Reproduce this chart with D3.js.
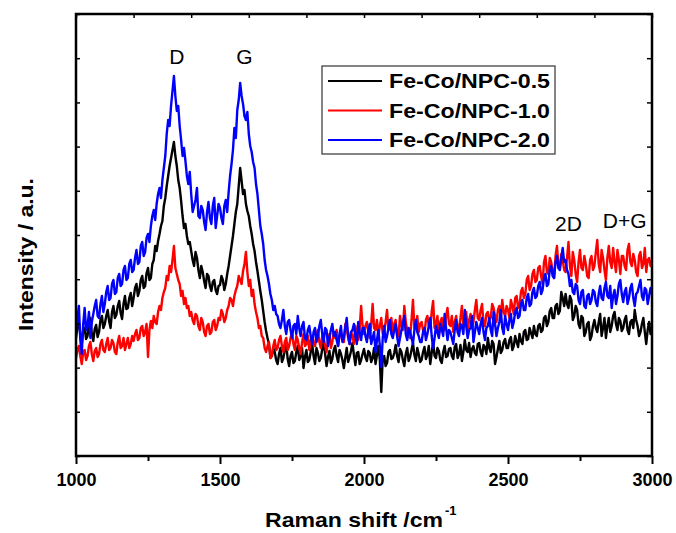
<!DOCTYPE html>
<html><head><meta charset="utf-8">
<script src="https://cdn.jsdelivr.net/npm/d3@7"></script>
<style>body{margin:0;background:#fff}svg{display:block}text{font-family:"Liberation Sans",Arial,sans-serif}</style>
</head><body><svg id="c" width="676" height="533"></svg>
<script>
// Raman shift axis: 1000..3000 step 5
const shiftStart = 1000, shiftStep = 5;
const seriesNames = ["Fe-Co/NPC-0.5", "Fe-Co/NPC-1.0", "Fe-Co/NPC-2.0"];
const seriesColors = ["#000000", "#ff0000", "#0000ff"];
const xTicks = [1000, 1500, 2000, 2500, 3000];
const peakLabels = ["D", "G", "2D", "D+G"];
const peakLabelX = [1350, 1585, 2710, 2905];
const peakLabelY = [392, 392, 225, 228];

const npc05 = [
118,130,134,121,112,126,128,117,120,133,138,122,115,127,131,119,124,136,140,128,
132,140,146,135,128,144,150,138,141,150,155,143,137,152,160,147,148,158,163,150,
158,168,172,160,165,176,180,168,170,183,188,176,178,192,196,210,205,215,222,230,
235,250,258,270,280,290,298,306,314,300,290,276,268,255,240,228,232,220,212,214,
205,196,190,204,198,186,178,190,184,175,168,182,180,170,165,174,176,166,162,170,
171,180,176,166,172,182,190,200,210,220,232,244,252,270,288,275,262,266,252,245,
240,230,222,212,205,194,185,175,165,156,145,134,125,118,112,98,100,108,104,96,
92,102,108,94,98,106,112,97,90,100,104,93,95,104,110,96,100,108,88,99,
106,94,96,104,112,100,92,108,103,95,98,107,115,102,90,99,105,93,97,106,
110,100,94,106,102,96,88,98,108,94,99,105,113,101,91,103,104,92,96,102,
107,99,95,105,103,94,98,108,92,101,110,96,64,98,100,90,93,104,106,97,
98,103,111,100,94,107,104,96,90,102,108,95,99,106,113,101,95,108,102,94,
96,104,109,97,101,110,92,103,114,100,98,108,105,96,93,104,110,99,100,107,
108,100,97,109,112,98,102,111,95,104,116,106,104,113,99,107,110,103,101,112,
113,104,100,111,109,102,118,108,104,115,112,92,99,107,115,103,106,114,117,108,
108,116,119,106,110,120,114,109,122,115,112,124,126,116,117,128,123,118,130,122,
120,130,132,124,126,138,140,130,134,145,148,138,138,150,152,142,145,164,158,150,
162,152,148,160,156,136,140,150,146,132,128,140,138,120,124,132,134,116,120,130,
136,128,124,134,142,120,128,138,118,130,138,124,130,140,144,132,126,138,135,125,
128,136,140,126,122,134,136,128,146,136,130,120,124,132,138,124,112,126,134,122,
128];
const npc10 = [
98,106,110,100,92,104,106,96,100,110,114,102,95,105,108,99,102,112,116,106,
104,112,118,106,108,116,113,104,102,114,120,108,110,118,106,112,118,108,112,120,
115,122,126,116,118,128,130,120,124,132,99,126,135,128,140,134,132,144,150,146,
158,164,168,180,176,190,184,196,210,188,182,176,172,160,165,152,158,148,150,140,
144,136,132,142,140,130,126,138,134,124,120,130,132,122,124,134,136,126,130,138,
136,146,142,134,138,146,150,158,156,150,160,166,170,180,176,172,185,192,204,184,
170,176,160,166,152,144,138,128,130,120,118,108,104,110,114,98,100,110,116,106,
108,116,120,110,104,114,118,106,110,118,124,112,106,120,116,108,102,114,122,110,
112,120,106,116,120,112,110,122,126,114,108,120,118,110,104,116,122,108,114,124,
118,126,110,120,124,116,114,132,128,118,112,124,120,112,130,122,116,128,150,130,
122,130,134,124,118,132,152,128,126,136,120,130,138,122,124,134,146,126,128,138,
124,132,136,122,120,140,130,126,150,134,126,120,118,136,156,128,130,140,124,132,
134,126,122,136,140,130,128,144,155,128,132,140,120,134,138,126,126,140,148,132,
130,140,124,134,140,126,128,138,150,130,132,144,126,136,142,128,134,146,156,138,
136,146,152,132,130,142,144,136,138,152,148,140,134,146,150,138,156,144,140,150,
146,138,156,150,142,158,160,148,150,164,168,158,162,176,180,166,170,182,186,174,
176,188,190,180,172,194,200,184,182,198,194,184,178,200,210,190,188,202,196,186,
184,198,214,190,180,204,196,182,174,194,206,188,186,200,192,180,178,196,200,186,
190,204,216,192,184,206,198,186,176,198,210,194,188,208,194,184,206,196,182,200,
200,190,186,206,212,194,190,202,196,184,180,200,204,188,192,208,184,196,198,190,
196];
const npc20 = [
125,138,150,116,102,132,148,126,130,144,118,134,142,150,156,140,138,152,160,144,
152,164,170,156,158,172,176,162,164,178,182,170,172,186,190,176,178,192,196,184,
186,198,206,192,194,210,214,200,204,218,222,214,230,240,246,236,252,262,268,258,
276,288,300,322,336,330,350,365,380,360,345,350,330,316,300,308,295,280,272,284,
262,244,250,256,268,240,238,250,246,234,226,244,254,238,232,250,258,228,240,252,
248,238,232,250,256,244,264,280,292,306,328,318,346,356,373,360,352,340,336,344,
322,310,304,294,288,272,262,246,230,222,212,196,186,180,172,162,156,146,150,142,
140,132,128,136,146,130,122,134,136,126,118,130,132,122,140,128,120,130,134,118,
116,126,130,120,112,124,128,114,120,130,136,122,114,128,126,110,118,126,132,120,
124,116,110,122,130,114,118,128,138,120,112,124,126,132,120,112,134,124,116,128,
128,120,114,126,132,112,118,124,104,116,126,110,89,118,130,114,120,128,136,122,
118,126,132,120,110,118,126,132,140,122,116,128,124,118,112,126,136,124,120,114,
114,124,128,116,122,130,138,120,108,118,130,124,118,132,126,120,142,128,116,126,
124,118,112,126,136,124,120,132,130,122,146,130,118,126,128,140,114,124,134,128,
122,132,138,124,116,128,130,138,126,120,144,132,120,128,134,146,128,122,140,132,
126,136,142,128,134,144,148,138,140,152,156,146,146,158,162,150,152,164,168,158,
160,170,174,162,166,178,182,170,172,186,190,180,178,194,200,188,186,198,208,194,
196,186,182,170,176,164,162,172,170,156,152,164,166,150,148,160,162,152,156,166,
164,154,150,162,170,158,156,168,174,160,158,170,148,160,166,152,160,172,176,162,
154,164,168,152,158,168,172,158,150,162,164,170,176,160,156,168,166,152,160,168,
162];
const seriesValues = [npc05, npc10, npc20];

const svg = d3.select("#c");
const L = 76, R = 652, T = 14, B = 456;
const x = d3.scaleLinear().domain([1000, 3000]).range([L, R]);
const y = d3.scaleLinear().domain([0, 442]).range([B, T]);

svg.append("defs").append("clipPath").attr("id", "clip")
  .append("rect").attr("x", L).attr("y", T).attr("width", R - L).attr("height", B - T);

const line = d3.line().x((d, i) => x(shiftStart + i * shiftStep)).y(d => y(d));
const g = svg.append("g").attr("clip-path", "url(#clip)");
seriesValues.forEach((vals, k) => {
  g.append("path").datum(vals).attr("d", line).attr("fill", "none")
    .attr("stroke", seriesColors[k]).attr("stroke-width", 2.4).attr("stroke-linejoin", "round");
});

// axes
const axB = svg.append("g").attr("transform", `translate(0,${B})`)
  .call(d3.axisBottom(x).tickValues(d3.range(1000, 3001, 250)).tickSize(8).tickFormat(d => xTicks.includes(d) ? d : ""));
axB.selectAll(".tick line").attr("stroke-width", 2).attr("y2", d => xTicks.includes(d) ? 8 : 5);
axB.selectAll(".tick text").attr("font-size", 18).attr("font-weight", "bold").attr("dy", "1.05em").attr("fill", "#000");
axB.select(".domain").remove();

const axT = svg.append("g").attr("transform", `translate(0,${T})`)
  .call(d3.axisBottom(x).tickValues(d3.range(1000, 3001, 200)).tickSize(4).tickFormat(""));
axT.selectAll(".tick line").attr("stroke-width", 1.5);
axT.select(".domain").remove();

const yt = d3.range(0, 443, 44.2);
const axL = svg.append("g").attr("transform", `translate(${L},0)`)
  .call(d3.axisRight(y).tickValues(yt).tickSize(4).tickFormat(""));
axL.selectAll(".tick line").attr("stroke-width", 1.5);
axL.select(".domain").remove();
const axR = svg.append("g").attr("transform", `translate(${R},0)`)
  .call(d3.axisLeft(y).tickValues(yt).tickSize(5).tickFormat(""));
axR.selectAll(".tick line").attr("stroke-width", 1.5);
axR.select(".domain").remove();

svg.append("rect").attr("x", L).attr("y", T).attr("width", R - L).attr("height", B - T)
  .attr("fill", "none").attr("stroke", "#000").attr("stroke-width", 2.5);

// axis titles
svg.append("text").attr("x", 265).attr("y", 527).attr("font-size", 21).attr("font-weight", "bold")
  .attr("textLength", 178).attr("lengthAdjust", "spacingAndGlyphs").text("Raman shift /cm");
svg.append("text").attr("x", 445).attr("y", 515).attr("font-size", 13).attr("font-weight", "bold").text("-1");
svg.append("text").attr("transform", "translate(33,331) rotate(-90)").attr("font-size", 21).attr("font-weight", "bold")
  .attr("textLength", 153).attr("lengthAdjust", "spacingAndGlyphs").text("Intensity / a.u.");

// peak labels
peakLabels.forEach((t, i) => {
  svg.append("text").attr("x", x(peakLabelX[i])).attr("y", y(peakLabelY[i])).attr("text-anchor", "middle")
    .attr("font-size", 21).text(t);
});

// legend
const lg = svg.append("g");
lg.append("rect").attr("x", 322).attr("y", 66).attr("width", 233).attr("height", 88)
  .attr("fill", "#fff").attr("stroke", "#333").attr("stroke-width", 1.2);
seriesNames.forEach((n, i) => {
  const yy = 81 + i * 29.5;
  lg.append("line").attr("x1", 328).attr("x2", 382).attr("y1", yy).attr("y2", yy)
    .attr("stroke", seriesColors[i]).attr("stroke-width", 2);
  lg.append("text").attr("x", 389).attr("y", yy + 7).attr("font-size", 21).attr("font-weight", "bold")
    .attr("textLength", 161).attr("lengthAdjust", "spacingAndGlyphs").text(n);
});
</script></body></html>
